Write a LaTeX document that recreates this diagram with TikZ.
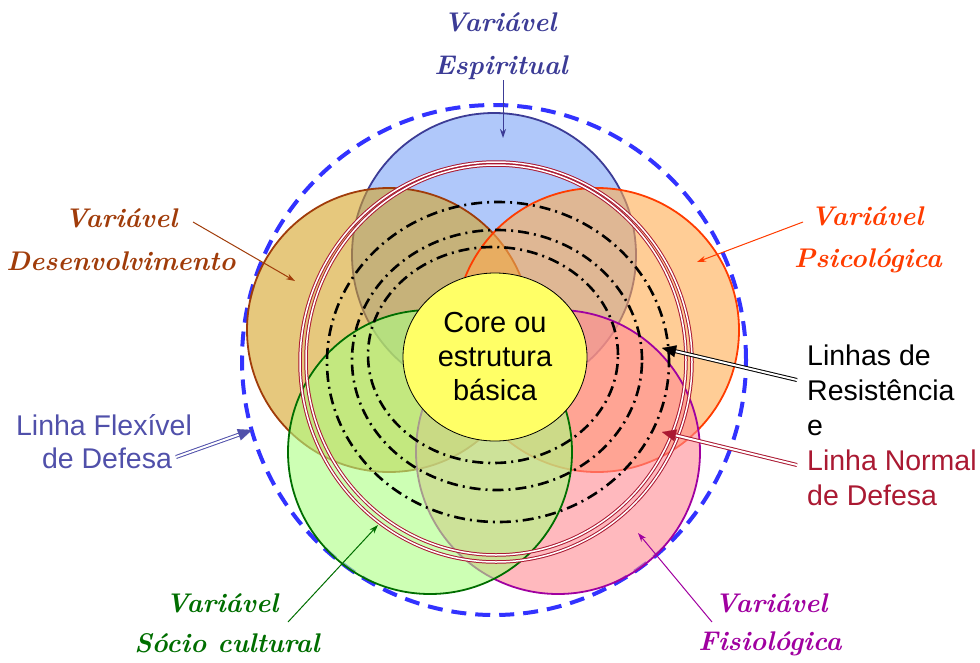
\documentclass[tikz,border=0pt]{standalone}
\usepackage{fontspec}
\newfontfamily\labelsans{Liberation Sans}
\usetikzlibrary{arrows.meta,shapes.geometric,calc}

\definecolor{espfill}{RGB}{123,163,247}
\definecolor{espline}{RGB}{60,60,150}
\definecolor{desfill}{RGB}{213,163,38}
\definecolor{desline}{RGB}{160,60,10}
\definecolor{psifill}{RGB}{255,172,80}
\definecolor{psiline}{RGB}{255,60,0}
\definecolor{socfill}{RGB}{172,255,130}
\definecolor{socline}{RGB}{0,110,0}
\definecolor{fisfill}{RGB}{255,138,147}
\definecolor{fisline}{RGB}{160,0,160}
\definecolor{corefill}{RGB}{255,255,102}
\definecolor{flexblue}{RGB}{50,50,255}
\definecolor{flextext}{RGB}{80,80,170}
\definecolor{normred}{RGB}{170,25,50}

\tikzset{
  varcircle/.style={circle, line width=1.8pt, fill opacity=0.6, draw opacity=1,
    minimum size=284pt, inner sep=0pt},
  varlabel/.style={anchor=base, inner sep=0pt,
    font=\fontsize{27}{30}\selectfont\bfseries\itshape},
  sidelabel/.style={anchor=base west, inner sep=0pt,
    font=\labelsans\fontsize{28.5}{35}\selectfont},
  flexlabel/.style={anchor=base, inner sep=0pt, text=flextext,
    font=\labelsans\fontsize{28.5}{35}\selectfont},
  vararrow/.style={line width=1pt, -{Stealth[length=9pt,width=6pt]}},
  dblshaft/.style={line width=1pt, double=white, double distance=2pt, shorten >=12pt},
  dbltip/.style={line width=0.1pt, -{Triangle[length=14pt,width=12pt]}},
  resline/.style={line width=2.6pt, dash pattern=on 11pt off 5pt on 2pt off 5pt},
  normline/.style={draw=normred, line width=1pt, double=white, double distance=1.5pt}
}

\begin{document}
\begin{tikzpicture}[x=1pt, y=-1pt]
\useasboundingbox (0,0) rectangle (980,662);

% linha flexivel de defesa
\draw[flexblue, line width=4pt, dash pattern=on 15pt off 9pt] (494,360) ellipse [x radius=252pt, y radius=255pt];

% variaveis
\node[varcircle, draw=espline, fill=espfill] (esp) at (494,255) {};
\node[varcircle, draw=desline, fill=desfill] (des) at (389,330) {};
\node[varcircle, draw=psiline, fill=psifill] (psi) at (597,330) {};
\node[varcircle, draw=fisline, fill=fisfill] (fis) at (558,452) {};
\node[varcircle, draw=socline, fill=socfill] (soc) at (430,452) {};

% linha normal de defesa
\draw[normline] (496,362) ellipse [x radius=196pt, y radius=200pt];
\draw[normline] (496,360) ellipse [x radius=190pt, y radius=195pt];

% linhas de resistencia
\draw[resline] (498,362) ellipse [x radius=171pt, y radius=160pt];
\draw[resline] (497,360) ellipse [x radius=145pt, y radius=130pt];
\draw[resline] (493,355) ellipse [x radius=125pt, y radius=108pt];

% core
\node[ellipse, draw, line width=0.8pt, fill=corefill, minimum width=184pt, minimum height=168pt,
  inner sep=0pt, align=center, font=\labelsans\fontsize{29}{34}\selectfont] (core) at (495,357)
  {Core ou\\estrutura\\básica};

% rotulos das variaveis
\node[varlabel, text=espline] (espA) at (500,31) {Variável};
\node[varlabel, text=espline] (espB) at (501,74) {Espiritual};
\node[varlabel, text=desline] (desA) at (121,227) {Variável};
\node[varlabel, text=desline] (desB) at (121,270) {Desenvolvimento};
\node[varlabel, text=psiline] (psiA) at (867,225) {Variável};
\node[varlabel, text=psiline] (psiB) at (868,267) {Psicológica};
\node[varlabel, text=socline] (socA) at (222,612) {Variável};
\node[varlabel, text=socline] (socB) at (227,652) {Sócio cultural};
\node[varlabel, text=fisline] (fisA) at (771,612) {Variável};
\node[varlabel, text=fisline] (fisB) at (770,650) {Fisiológica};

\coordinate (espS) at (503,80);   \coordinate (espT) at (503,138);
\coordinate (desS) at (193,222);  \coordinate (desT) at (295,281);
\coordinate (psiS) at (803,222);  \coordinate (psiT) at (697,262);
\coordinate (socS) at (288,622);  \coordinate (socT) at (378,525);
\coordinate (fisS) at (712,622);  \coordinate (fisT) at (638,533);
\draw[vararrow, espline] (espS) -- (espT);
\draw[vararrow, desline] (desS) -- (desT);
\draw[vararrow, psiline] (psiS) -- (psiT);
\draw[vararrow, socline] (socS) -- (socT);
\draw[vararrow, fisline] (fisS) -- (fisT);

% linhas
\node[flexlabel] (flexA) at (104,435) {Linha Flexível};
\node[flexlabel] (flexB) at (107,468) {de Defesa};
\node[sidelabel] (resA) at (807,365) {Linhas de};
\node[sidelabel] (resB) at (807,400) {Resistência};
\node[sidelabel] (resC) at (807,435) {e};
\node[sidelabel, text=normred] (normA) at (807,470) {Linha Normal};
\node[sidelabel, text=normred] (normB) at (807,505) {de Defesa};

\coordinate (flexS) at (176,457); \coordinate (flexT) at (252,430);
\coordinate (resS) at (797,380);  \coordinate (resT) at (662,348);
\coordinate (normS) at (797,465); \coordinate (normT) at (662,432);
\draw[dblshaft, draw=flextext] (flexS) -- (flexT);
\draw[dbltip, flextext] ($(flexT)!14pt!(flexS)$) -- (flexT);
\draw[dblshaft, draw=black] (resS) -- (resT);
\draw[dbltip, black] ($(resT)!14pt!(resS)$) -- (resT);
\draw[dblshaft, draw=normred] (normS) -- (normT);
\draw[dbltip, normred] ($(normT)!14pt!(normS)$) -- (normT);
\end{tikzpicture}
\end{document}
